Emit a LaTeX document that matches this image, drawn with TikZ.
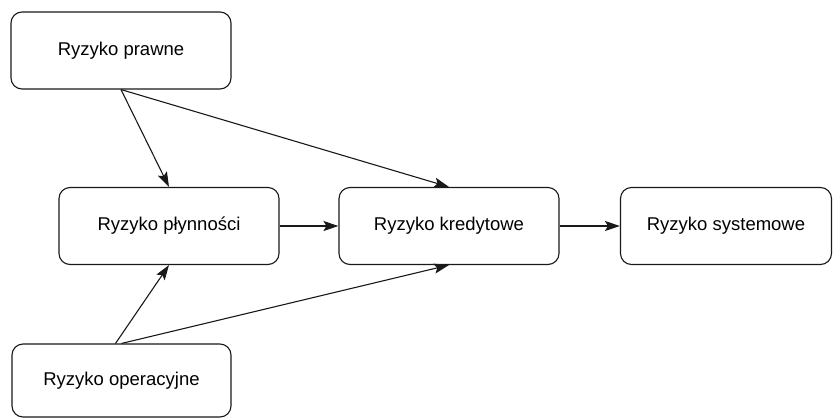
\documentclass[tikz,border=0pt]{standalone}
\usepackage{fontspec}
\setmainfont{Liberation Sans}
\usetikzlibrary{arrows.meta}
\begin{document}
\begin{tikzpicture}[x=1pt,y=-1pt,
  riskbox/.style={draw=black!90, line width=1.1pt, rounded corners=11pt, minimum height=77pt, minimum width=220pt, inner sep=0pt, font=\fontsize{18.5}{22}\selectfont, fill=white},
  link/.style={draw=black!90, line width=1.1pt, -{Stealth[length=15pt,width=10pt,inset=3pt]}}]
\useasboundingbox (0,0) rectangle (833,418);
\node[riskbox] (prawne) at (121,50.5) {Ryzyko prawne};
\node[riskbox] (plyn) at (169,226) {Ryzyko płynności};
\node[riskbox] (kred) at (449,226) {Ryzyko kredytowe};
\node[riskbox, minimum width=211pt] (sys) at (726,226) {Ryzyko systemowe};
\node[riskbox, minimum height=73pt, minimum width=219pt] (oper) at (121.5,380.5) {Ryzyko operacyjne};
\draw[link] (prawne.south) -- (plyn.north);
\draw[link] (prawne.south) -- (kred.north);
\draw[link] ([xshift=-6pt]oper.north) -- (plyn.south);
\draw[link] (oper.north) -- (kred.south);
\draw[link] (plyn.east) -- (kred.west);
\draw[link] (kred.east) -- (sys.west);
\end{tikzpicture}
\end{document}
